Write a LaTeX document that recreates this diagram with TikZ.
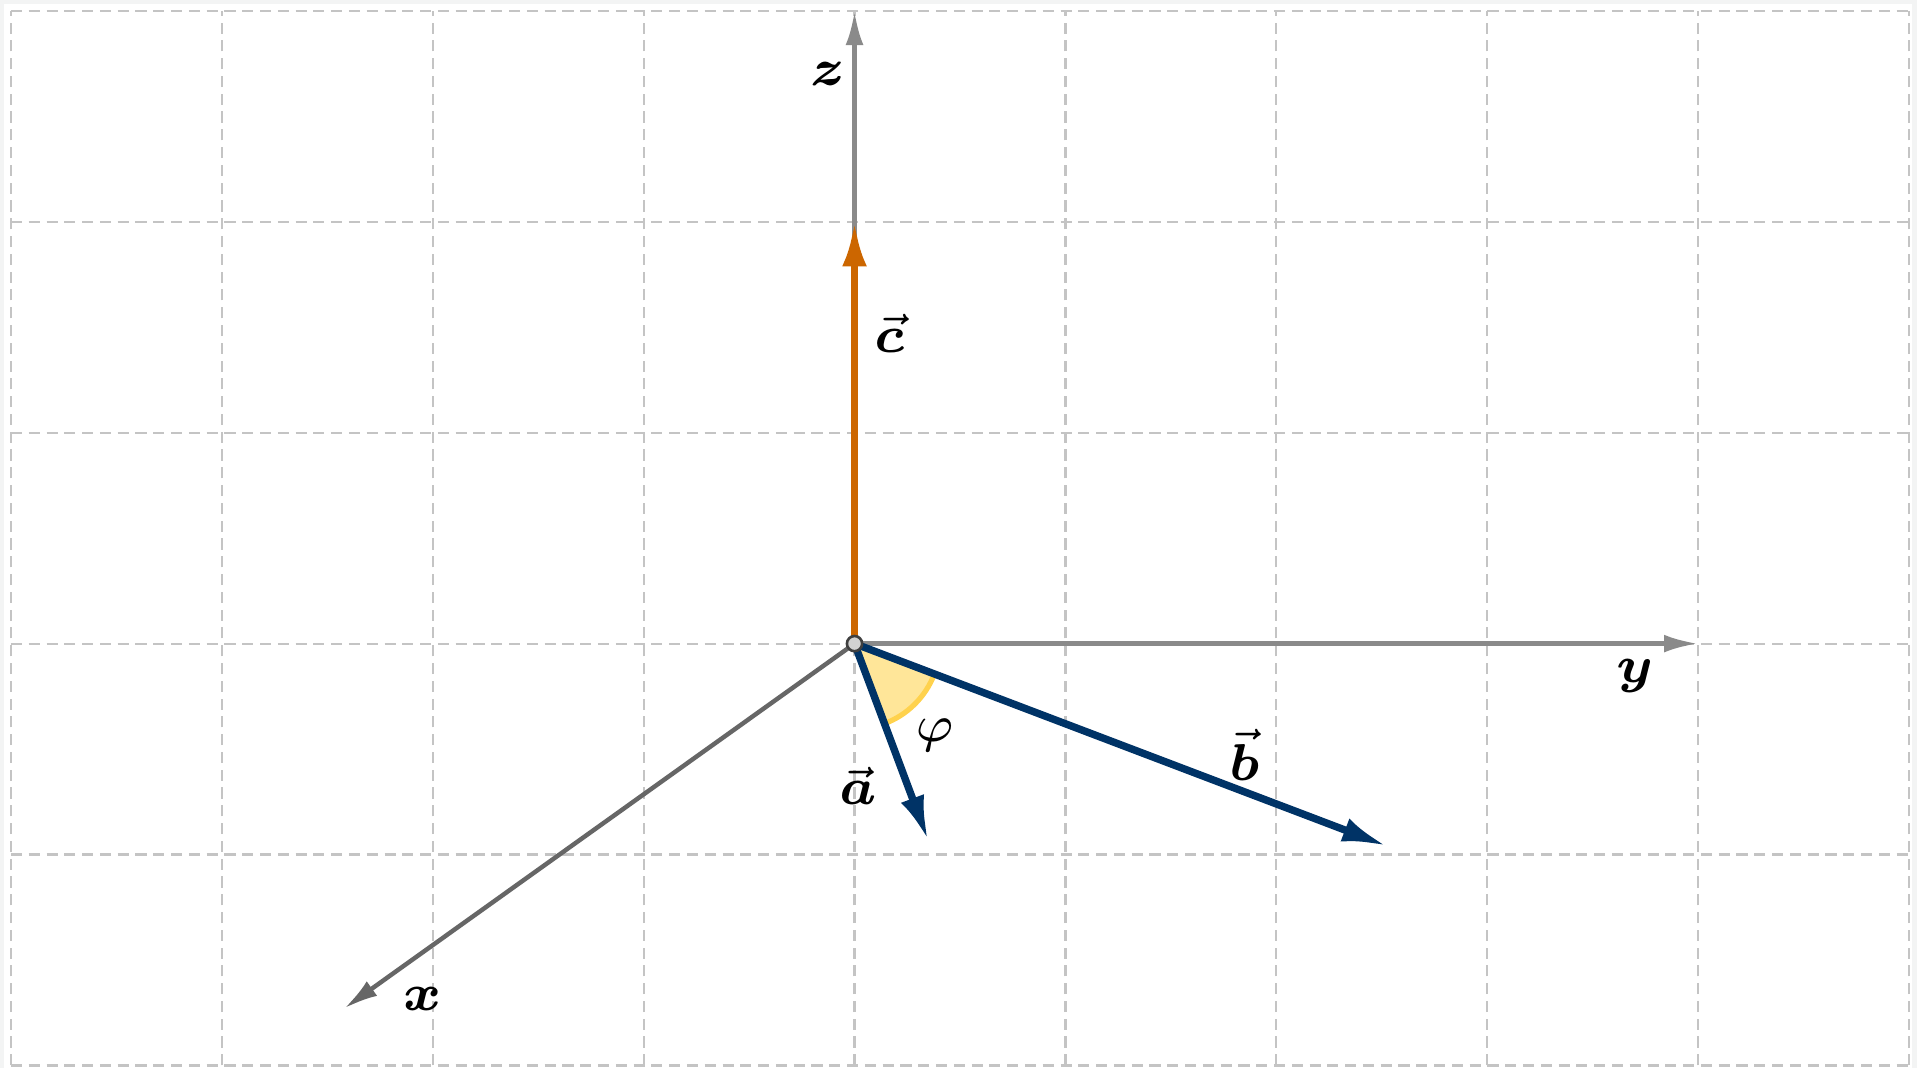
\documentclass[tikz,border=0pt]{standalone}
\usepackage{bm}
\usetikzlibrary{arrows.meta}
\definecolor{bgout}{HTML}{F3F4F4}
\definecolor{gridc}{HTML}{C4C4C4}
\definecolor{axlight}{HTML}{8A8A8A}
\definecolor{axdark}{HTML}{666666}
\definecolor{vorange}{HTML}{CC6600}
\definecolor{vblue}{HTML}{003366}
\definecolor{angfill}{HTML}{FFE699}
\definecolor{angline}{HTML}{FFD24D}
\tikzset{
  gridline/.style={gridc, line width=0.3pt, dash pattern=on 1.5pt off 0.9pt},
  axis/.style={line width=0.6pt, -{Latex[length=4.6pt,width=2.4pt]}},
  vect/.style={line width=1pt, -{Latex[length=6pt,width=3.3pt]}},
  lbl/.style={font=\fontsize{6.7}{8}\selectfont, inner sep=0pt},
}
\begin{document}
\begin{tikzpicture}
\useasboundingbox (-4.052,-2.014) rectangle (5.038,3.052);
\fill[bgout] (-4.052,-2.014) rectangle (5.038,3.052);
\fill[white] (-4.033,-2.014) rectangle (5.016,3.033);
% grid
\foreach \x in {-4,...,5} \draw[gridline] (\x,-2) -- (\x,3);
\foreach \y in {-2,...,3} \draw[gridline] (-4,\y) -- (5,\y);
% points
\coordinate (O) at (0,0);
\coordinate (X) at (-2.42,-1.73);
\coordinate (Y) at (4,0);
\coordinate (Z) at (0,3);
\coordinate (A) at (0.349,-0.932);
\coordinate (B) at (2.523,-0.959);
\coordinate (C) at (0,2);
% axes
\draw[axis, axlight] (O) -- (Z);
\draw[axis, axlight] (O) -- (Y);
\draw[axis, axdark] (O) -- (X);
% angle
\fill[angfill] (O) -- (-20.8:0.405) arc[start angle=-20.8, end angle=-69.5, radius=0.405] -- cycle;
\draw[angline, line width=0.7pt] (-20.8:0.405) arc[start angle=-20.8, end angle=-69.5, radius=0.405];
% vectors
\draw[vect, vorange] (O) -- (C);
\draw[vect, vblue] (O) -- (A);
\draw[vect, vblue] (O) -- (B);
% origin
\filldraw[fill=gray!35, draw=black!75, line width=0.35pt] (O) circle[radius=0.036];
% labels
\node[lbl] (lz) at (-0.128,2.70) {$\bm{z}$};
\node[lbl] (ly) at (3.70,-0.155) {$\bm{y}$};
\node[lbl] (lx) at (-2.046,-1.687) {$\bm{x}$};
\node[lbl] (lc) at (0.165,1.47) {$\vec{\bm{c}}$};
\node[lbl] (la) at (0.017,-0.675) {$\vec{\bm{a}}$};
\node[lbl] (lb) at (1.849,-0.528) {$\vec{\bm{b}}$};
\node[lbl, font=\fontsize{7.2}{8}\selectfont] (lphi) at (0.381,-0.434) {$\varphi$};
\end{tikzpicture}
\end{document}
